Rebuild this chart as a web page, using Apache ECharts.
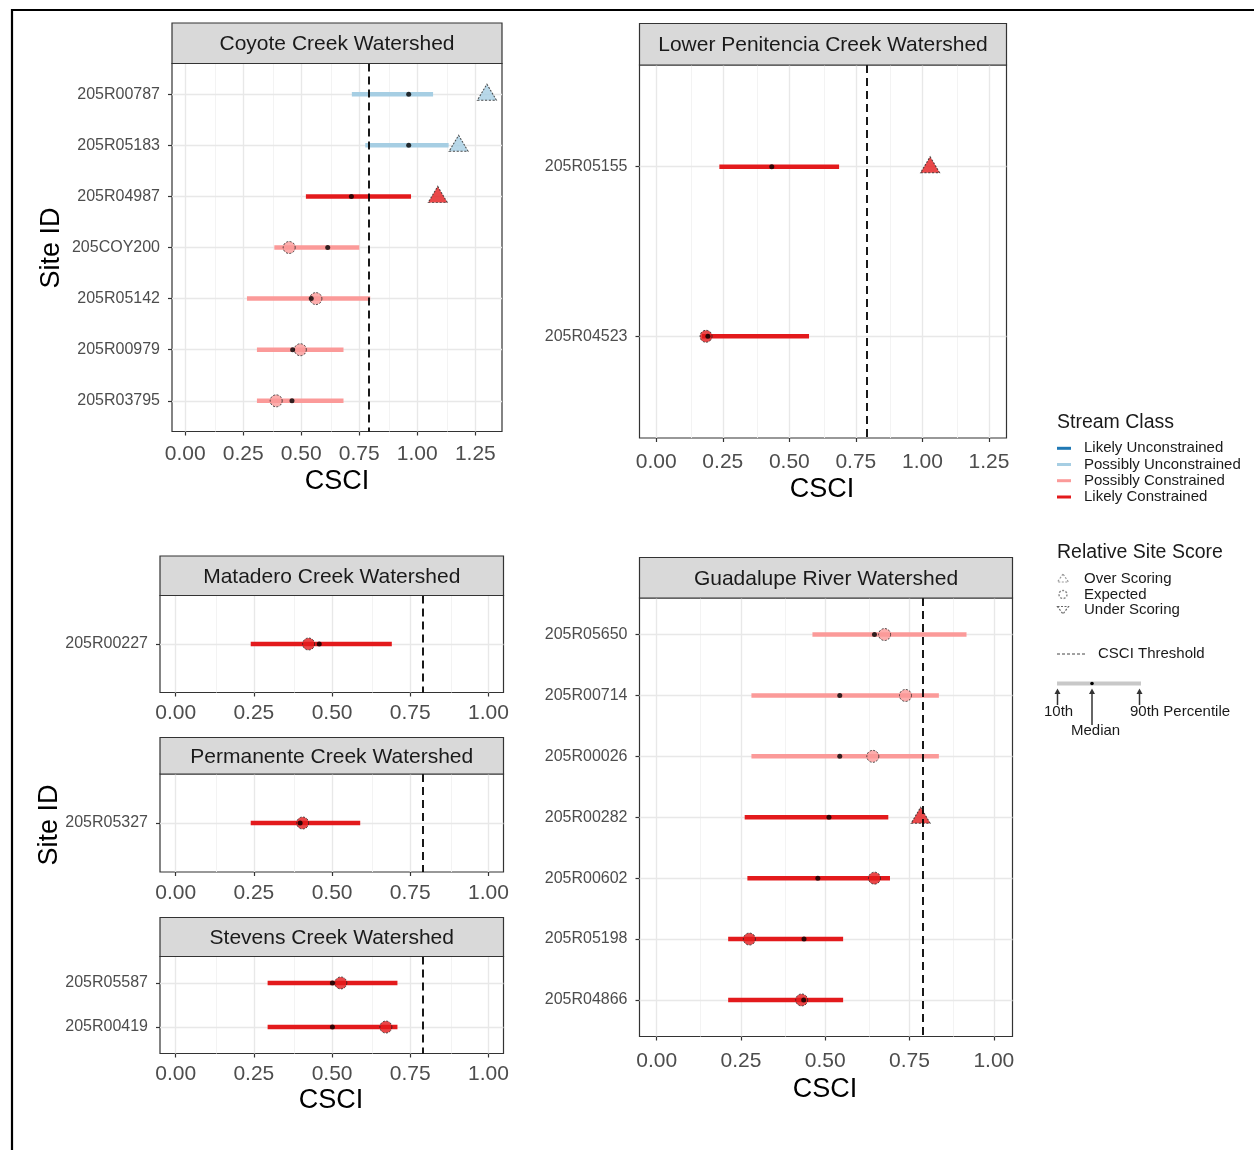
<!DOCTYPE html>
<html><head><meta charset="utf-8">
<script src="https://cdn.jsdelivr.net/npm/echarts@6/dist/echarts.min.js"></script>
<style>html,body{margin:0;padding:0;background:#fff}#c{width:1254px;height:1150px}</style>
</head><body><div id="c"></div>
<script>
// ================= DATA =================
const classNames = ['Likely Unconstrained', 'Possibly Unconstrained', 'Possibly Constrained', 'Likely Constrained'];
const scoreNames = ['Over Scoring', 'Expected', 'Under Scoring'];
const csciThreshold = 0.79;
const ticksWide = [0, 0.25, 0.5, 0.75, 1, 1.25];
const ticksNarrow = [0, 0.25, 0.5, 0.75, 1];

// Coyote Creek Watershed
const coyoteSites  = ['205R00787', '205R05183', '205R04987', '205COY200', '205R05142', '205R00979', '205R03795'];
const coyoteP10    = [0.718, 0.776, 0.520, 0.384, 0.266, 0.309, 0.309];
const coyoteMedian = [0.963, 0.963, 0.716, 0.614, 0.543, 0.463, 0.460];
const coyoteP90    = [1.068, 1.135, 0.973, 0.750, 0.797, 0.682, 0.682];
const coyoteScore  = [1.300, 1.178, 1.088, 0.448, 0.563, 0.496, 0.392];
const coyoteClass  = ['Possibly Unconstrained', 'Possibly Unconstrained', 'Likely Constrained', 'Possibly Constrained', 'Possibly Constrained', 'Possibly Constrained', 'Possibly Constrained'];
const coyoteRel    = ['Over Scoring', 'Over Scoring', 'Over Scoring', 'Expected', 'Expected', 'Expected', 'Expected'];

// Lower Penitencia Creek Watershed
const penitenciaSites  = ['205R05155', '205R04523'];
const penitenciaP10    = [0.237, 0.172];
const penitenciaMedian = [0.434, 0.194];
const penitenciaP90    = [0.687, 0.574];
const penitenciaScore  = [1.029, 0.187];
const penitenciaClass  = ['Likely Constrained', 'Likely Constrained'];
const penitenciaRel    = ['Over Scoring', 'Expected'];

// Matadero Creek Watershed
const mataderoSites  = ['205R00227'];
const mataderoP10    = [0.240];
const mataderoMedian = [0.459];
const mataderoP90    = [0.691];
const mataderoScore  = [0.425];
const mataderoClass  = ['Likely Constrained'];
const mataderoRel    = ['Expected'];

// Permanente Creek Watershed
const permanenteSites  = ['205R05327'];
const permanenteP10    = [0.240];
const permanenteMedian = [0.398];
const permanenteP90    = [0.590];
const permanenteScore  = [0.406];
const permanenteClass  = ['Likely Constrained'];
const permanenteRel    = ['Expected'];

// Stevens Creek Watershed
const stevensSites  = ['205R05587', '205R00419'];
const stevensP10    = [0.294, 0.294];
const stevensMedian = [0.501, 0.501];
const stevensP90    = [0.709, 0.709];
const stevensScore  = [0.528, 0.672];
const stevensClass  = ['Likely Constrained', 'Likely Constrained'];
const stevensRel    = ['Expected', 'Expected'];

// Guadalupe River Watershed
const guadalupeSites  = ['205R05650', '205R00714', '205R00026', '205R00282', '205R00602', '205R05198', '205R04866'];
const guadalupeP10    = [0.462, 0.281, 0.281, 0.261, 0.269, 0.212, 0.212];
const guadalupeMedian = [0.646, 0.543, 0.543, 0.511, 0.478, 0.437, 0.436];
const guadalupeP90    = [0.919, 0.837, 0.837, 0.687, 0.692, 0.553, 0.553];
const guadalupeScore  = [0.676, 0.738, 0.641, 0.783, 0.646, 0.275, 0.430];
const guadalupeClass  = ['Possibly Constrained', 'Possibly Constrained', 'Possibly Constrained', 'Likely Constrained', 'Likely Constrained', 'Likely Constrained', 'Likely Constrained'];
const guadalupeRel    = ['Expected', 'Expected', 'Expected', 'Over Scoring', 'Expected', 'Expected', 'Expected'];

// ================= STYLE / LAYOUT =================
const FONT = '"Liberation Sans", Arial, Helvetica, sans-serif';
const classColors = {
  'Likely Unconstrained': '#1F78B4',
  'Possibly Unconstrained': '#A6CEE3',
  'Possibly Constrained': '#FB9A99',
  'Likely Constrained': '#E31A1C'
};

const panels = [
  { title: 'Coyote Creek Watershed', left: 172, top: 63.5, width: 330, height: 368, stripTop: 23, xMin: -0.057, xMax: 1.365, ticks: ticksWide, xGap: 12,
    sites: coyoteSites, p10: coyoteP10, med: coyoteMedian, p90: coyoteP90, score: coyoteScore, cls: coyoteClass, rel: coyoteRel },
  { title: 'Lower Penitencia Creek Watershed', left: 639.5, top: 65, width: 367, height: 373, stripTop: 23.5, xMin: -0.063, xMax: 1.316, ticks: ticksWide, xGap: 14,
    sites: penitenciaSites, p10: penitenciaP10, med: penitenciaMedian, p90: penitenciaP90, score: penitenciaScore, cls: penitenciaClass, rel: penitenciaRel },
  { title: 'Matadero Creek Watershed', left: 160, top: 595.5, width: 343.5, height: 97, stripTop: 556, xMin: -0.050, xMax: 1.048, ticks: ticksNarrow, xGap: 10.5,
    sites: mataderoSites, p10: mataderoP10, med: mataderoMedian, p90: mataderoP90, score: mataderoScore, cls: mataderoClass, rel: mataderoRel },
  { title: 'Permanente Creek Watershed', left: 160, top: 774, width: 343.5, height: 98, stripTop: 737.5, xMin: -0.050, xMax: 1.048, ticks: ticksNarrow, xGap: 11,
    sites: permanenteSites, p10: permanenteP10, med: permanenteMedian, p90: permanenteP90, score: permanenteScore, cls: permanenteClass, rel: permanenteRel },
  { title: 'Stevens Creek Watershed', left: 160, top: 956.5, width: 343.5, height: 97, stripTop: 917.5, xMin: -0.050, xMax: 1.048, ticks: ticksNarrow, xGap: 10.5,
    sites: stevensSites, p10: stevensP10, med: stevensMedian, p90: stevensP90, score: stevensScore, cls: stevensClass, rel: stevensRel },
  { title: 'Guadalupe River Watershed', left: 639.5, top: 598, width: 373, height: 438.5, stripTop: 557.5, xMin: -0.051, xMax: 1.0554, ticks: ticksNarrow, xGap: 14,
    sites: guadalupeSites, p10: guadalupeP10, med: guadalupeMedian, p90: guadalupeP90, score: guadalupeScore, cls: guadalupeClass, rel: guadalupeRel }
];

const grids = [], xAxes = [], yAxes = [], series = [], graphics = [];

panels.forEach((P, k) => {
  const n = P.sites.length;
  const idx = P.sites.map((s, i) => i + 1);
  grids.push({ left: P.left, top: P.top, width: P.width, height: P.height, show: true,
    borderColor: '#333333', borderWidth: 1.2, backgroundColor: '#ffffff', containLabel: false, outerBoundsMode: 'none' });
  xAxes.push({ gridIndex: k, type: 'value', min: P.xMin, max: P.xMax,
    axisLine: { show: false, onZero: false }, splitLine: { show: false },
    axisTick: { show: true, customValues: P.ticks, length: 4, lineStyle: { color: '#333333', width: 1.2 } },
    axisLabel: { customValues: P.ticks, formatter: v => v.toFixed(2), fontSize: 21, color: '#4d4d4d', margin: P.xGap, fontFamily: FONT } });
  yAxes.push({ gridIndex: k, type: 'value', inverse: true, min: 0.4, max: n + 0.6,
    axisLine: { show: false, onZero: false }, splitLine: { show: false },
    axisTick: { show: true, customValues: idx, length: 4, lineStyle: { color: '#333333', width: 1.2 } },
    axisLabel: { customValues: idx, formatter: v => P.sites[Math.round(v) - 1] || '', fontSize: 16, color: '#4d4d4d', margin: 12, fontFamily: FONT } });

  // grid lines (derived from tick values)
  const minors = [];
  for (let i = 0; i < P.ticks.length; i++) {
    const m = P.ticks[i] + 0.125;
    if (m < P.xMax) minors.push(m);
  }
  const gl = [];
  minors.forEach(v => gl.push({ xAxis: v, lineStyle: { color: '#f2f2f2', width: 0.9, type: 'solid' } }));
  P.ticks.forEach(v => gl.push({ xAxis: v, lineStyle: { color: '#e8e8e8', width: 1.4, type: 'solid' } }));
  idx.forEach(v => gl.push({ yAxis: v, lineStyle: { color: '#e8e8e8', width: 1.4, type: 'solid' } }));
  series.push({ type: 'scatter', xAxisIndex: k, yAxisIndex: k, data: [], z: 1, silent: true,
    markLine: { z: 1, silent: true, symbol: ['none', 'none'], label: { show: false }, animation: false, data: gl } });

  // percentile bars
  series.push({ type: 'custom', xAxisIndex: k, yAxisIndex: k, z: 2, silent: true,
    data: P.sites.map((s, i) => [P.p10[i], P.p90[i], i + 1]),
    encode: { x: [0, 1], y: 2 },
    renderItem: (params, api) => {
      const a = api.coord([api.value(0), api.value(2)]);
      const b = api.coord([api.value(1), api.value(2)]);
      return { type: 'line', shape: { x1: a[0], y1: a[1], x2: b[0], y2: b[1] },
        style: { stroke: classColors[P.cls[params.dataIndex]], lineWidth: 4.5, lineCap: 'butt' } };
    } });

  // site scores
  series.push({ type: 'scatter', xAxisIndex: k, yAxisIndex: k, z: 3, silent: true,
    data: P.sites.map((s, i) => {
      const r = P.rel[i];
      const tri = r !== 'Expected';
      return { value: [P.score[i], i + 1],
        symbol: tri ? 'triangle' : 'circle',
        symbolSize: tri ? [19, 16] : 12,
        symbolRotate: r === 'Under Scoring' ? 180 : 0,
        symbolOffset: tri ? [0, r === 'Under Scoring' ? 2 : -2] : [0, 0],
        itemStyle: { color: classColors[P.cls[i]], borderColor: '#222222', borderWidth: 1, borderType: [2, 1.5] } };
    }) });

  // medians
  series.push({ type: 'scatter', xAxisIndex: k, yAxisIndex: k, z: 4, silent: true,
    symbol: 'circle', symbolSize: 5, itemStyle: { color: '#000000' },
    data: P.sites.map((s, i) => [P.med[i], i + 1]) });

  // threshold
  series.push({ type: 'scatter', xAxisIndex: k, yAxisIndex: k, data: [], z: 6, silent: true,
    markLine: { z: 8, silent: true, symbol: ['none', 'none'], label: { show: false }, animation: false,
      lineStyle: { color: '#000000', width: 1.8, type: [8, 5] }, data: [{ xAxis: csciThreshold }] } });

  // strip header
  const sh = P.top - P.stripTop;
  graphics.push({ type: 'rect', shape: { x: P.left, y: P.stripTop, width: P.width, height: sh },
    style: { fill: '#d9d9d9', stroke: '#333333', lineWidth: 1.2 }, z: 10 });
  graphics.push({ type: 'text', x: P.left + P.width / 2, y: P.stripTop + sh / 2 + 1, z: 11,
    style: { text: P.title, font: '21px ' + FONT, fill: '#1a1a1a', align: 'center', verticalAlign: 'middle' } });
});

// axis titles
const titleFont = '27px ' + FONT;
[[337, 482], [822, 490], [331, 1101], [825, 1090]].forEach(p => {
  graphics.push({ type: 'text', x: p[0], y: p[1], style: { text: 'CSCI', font: titleFont, fill: '#000', align: 'center', verticalAlign: 'middle' } });
});
[[52, 248], [50, 825]].forEach(p => {
  graphics.push({ type: 'text', x: p[0], y: p[1], rotation: Math.PI / 2,
    style: { text: 'Site ID', font: titleFont, fill: '#000', align: 'center', verticalAlign: 'middle' } });
});

// legend
const legFont = '15px ' + FONT, legTitle = '19.5px ' + FONT;
graphics.push({ type: 'text', x: 1057, y: 422.5, style: { text: 'Stream Class', font: legTitle, fill: '#1a1a1a', verticalAlign: 'middle' } });
const classY = [448.3, 464.5, 480.7, 497];
classNames.forEach((c, i) => {
  graphics.push({ type: 'line', shape: { x1: 1057, y1: classY[i], x2: 1071, y2: classY[i] }, style: { stroke: classColors[c], lineWidth: 3 } });
  graphics.push({ type: 'text', x: 1084, y: classY[i], style: { text: c, font: legFont, fill: '#1a1a1a', verticalAlign: 'middle' } });
});
graphics.push({ type: 'text', x: 1057, y: 553, style: { text: 'Relative Site Score', font: legTitle, fill: '#1a1a1a', verticalAlign: 'middle' } });
const scoreY = [578.5, 594.5, 610];
graphics.push({ type: 'polygon', shape: { points: [[1063, scoreY[0] - 4.5], [1057.5, scoreY[0] + 3.5], [1068.5, scoreY[0] + 3.5]] },
  style: { fill: 'none', stroke: '#999999', lineWidth: 1.2, lineDash: [2, 1.5] } });
graphics.push({ type: 'circle', shape: { cx: 1063, cy: scoreY[1], r: 4 },
  style: { fill: 'none', stroke: '#888888', lineWidth: 1.4, lineDash: [2, 1.5] } });
graphics.push({ type: 'polygon', shape: { points: [[1057.5, scoreY[2] - 3.5], [1068.5, scoreY[2] - 3.5], [1063, scoreY[2] + 4]] },
  style: { fill: 'none', stroke: '#666666', lineWidth: 1.2, lineDash: [2, 1.5] } });
scoreNames.forEach((s, i) => {
  graphics.push({ type: 'text', x: 1084, y: scoreY[i], style: { text: s, font: legFont, fill: '#1a1a1a', verticalAlign: 'middle' } });
});
graphics.push({ type: 'line', shape: { x1: 1057, y1: 654, x2: 1085, y2: 654 }, style: { stroke: '#444', lineWidth: 1, lineDash: [3, 2] } });
graphics.push({ type: 'text', x: 1098, y: 654, style: { text: 'CSCI Threshold', font: legFont, fill: '#1a1a1a', verticalAlign: 'middle' } });
// percentile key
graphics.push({ type: 'line', shape: { x1: 1057, y1: 683.5, x2: 1141, y2: 683.5 }, style: { stroke: '#c8c8c8', lineWidth: 4 } });
graphics.push({ type: 'circle', shape: { cx: 1092, cy: 683.5, r: 1.8 }, style: { fill: '#000' } });
[[1057.5, 705], [1092, 725], [1139.5, 705]].forEach(a => {
  graphics.push({ type: 'line', shape: { x1: a[0], y1: 691, x2: a[0], y2: a[1] }, style: { stroke: '#333', lineWidth: 1.5 } });
  graphics.push({ type: 'polygon', shape: { points: [[a[0], 688.5], [a[0] - 3, 694], [a[0] + 3, 694]] }, style: { fill: '#333' } });
});
graphics.push({ type: 'text', x: 1044, y: 711.5, style: { text: '10th', font: legFont, fill: '#1a1a1a', verticalAlign: 'middle' } });
graphics.push({ type: 'text', x: 1130, y: 711.5, style: { text: '90th Percentile', font: legFont, fill: '#1a1a1a', verticalAlign: 'middle' } });
graphics.push({ type: 'text', x: 1071, y: 731, style: { text: 'Median', font: legFont, fill: '#1a1a1a', verticalAlign: 'middle' } });

// page border
graphics.push({ type: 'line', shape: { x1: 11, y1: 10, x2: 1254, y2: 10 }, style: { stroke: '#000', lineWidth: 2 } });
graphics.push({ type: 'line', shape: { x1: 12, y1: 9, x2: 12, y2: 1150 }, style: { stroke: '#000', lineWidth: 2.2 } });

const chart = echarts.init(document.getElementById('c'), null, { renderer: 'canvas' });
chart.setOption({
  animation: false,
  backgroundColor: '#ffffff',
  textStyle: { fontFamily: FONT },
  grid: grids, xAxis: xAxes, yAxis: yAxes, series: series,
  graphic: { elements: graphics }
});
</script></body></html>
